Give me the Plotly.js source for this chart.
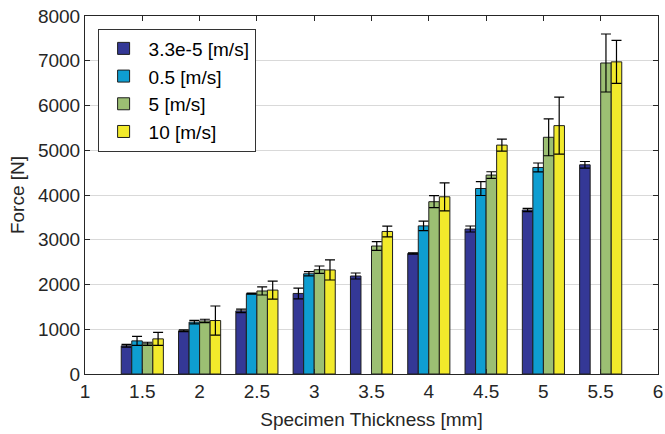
<!DOCTYPE html>
<html>
<head>
<meta charset="utf-8">
<script src="https://cdn.plot.ly/plotly-3.0.1.min.js"></script>
<style>html,body{margin:0;padding:0;background:#fff;}#chart{width:665px;height:434px;}</style>
</head>
<body>
<div id="chart"></div>
<script>
const thickness = [1.5, 2, 2.5, 3, 3.5, 4, 4.5, 5, 5.5];
const seriesNames = ['3.3e-5 [m/s]', '0.5 [m/s]', '5 [m/s]', '10 [m/s]'];
const force1 = [630, 965, 1410, 1800, 2190, 2695, 3240, 3665, 4675];
const err1   = [30, 20, 38, 120, 67, 15, 67, 38, 74];
const force2 = [740, 1160, 1795, 2240, null, 3310, 4145, 4615, null];
const err2   = [100, 40, 12, 48, null, 108, 156, 100, null];
const force3 = [675, 1185, 1855, 2330, 2860, 3850, 4445, 5290, 6950];
const err3   = [35, 38, 90, 83, 97, 134, 74, 413, 648];
const force4 = [785, 1195, 1875, 2325, 3185, 3960, 5115, 5550, 6975];
const err4   = [145, 325, 200, 224, 119, 313, 134, 637, 480];
const xTicks = [1, 1.5, 2, 2.5, 3, 3.5, 4, 4.5, 5, 5.5, 6];
const yTicks = [0, 1000, 2000, 3000, 4000, 5000, 6000, 7000, 8000];

const colors = ['#343896', '#0e9ed1', '#9cbf73', '#f2ea2b'];
const allF = [force1, force2, force3, force4];
const allE = [err1, err2, err3, err4];

const traces = allF.map((f, i) => ({
  type: 'bar',
  name: seriesNames[i],
  x: thickness,
  y: f,
  marker: {color: colors[i], line: {color: '#1e1e1e', width: 1}},
  error_y: {type: 'data', array: allE[i], visible: true, color: '#000', thickness: 1.2, width: 5}
}));

const axisCommon = {
  showline: true, linecolor: '#262626', linewidth: 1, mirror: 'ticks',
  ticks: 'inside', ticklen: 5, tickcolor: '#262626',
  tickfont: {family: 'Liberation Sans, Arial, sans-serif', size: 19, color: '#262626'},
  zeroline: false
};

const layout = {
  width: 665, height: 434,
  margin: {l: 85, r: 7, t: 16, b: 60},
  paper_bgcolor: '#fff', plot_bgcolor: '#fff',
  barmode: 'group', bargap: 0.265, bargroupgap: 0,
  showlegend: true,
  legend: {
    x: 0.022, y: 0.965, xanchor: 'left', yanchor: 'top',
    bgcolor: '#fff', bordercolor: '#333', borderwidth: 1,
    font: {family: 'Liberation Sans, Arial, sans-serif', size: 19, color: '#000'},
    tracegroupgap: 0, itemwidth: 40
  },
  xaxis: Object.assign({}, axisCommon, {
    range: [1, 6], tickvals: xTicks, ticktext: xTicks.map(String),
    showgrid: false,
    title: {text: 'Specimen Thickness [mm]', standoff: 11,
      font: {family: 'Liberation Sans, Arial, sans-serif', size: 19, color: '#262626'}}
  }),
  yaxis: Object.assign({}, axisCommon, {
    range: [0, 8000], tickvals: yTicks, ticktext: yTicks.map(String),
    showgrid: true, gridcolor: '#d9d9d9', gridwidth: 1,
    title: {text: 'Force [N]', standoff: 8,
      font: {family: 'Liberation Sans, Arial, sans-serif', size: 19, color: '#262626'}}
  })
};

Plotly.newPlot('chart', traces, layout, {displayModeBar: false, staticPlot: true});
</script>
</body>
</html>
